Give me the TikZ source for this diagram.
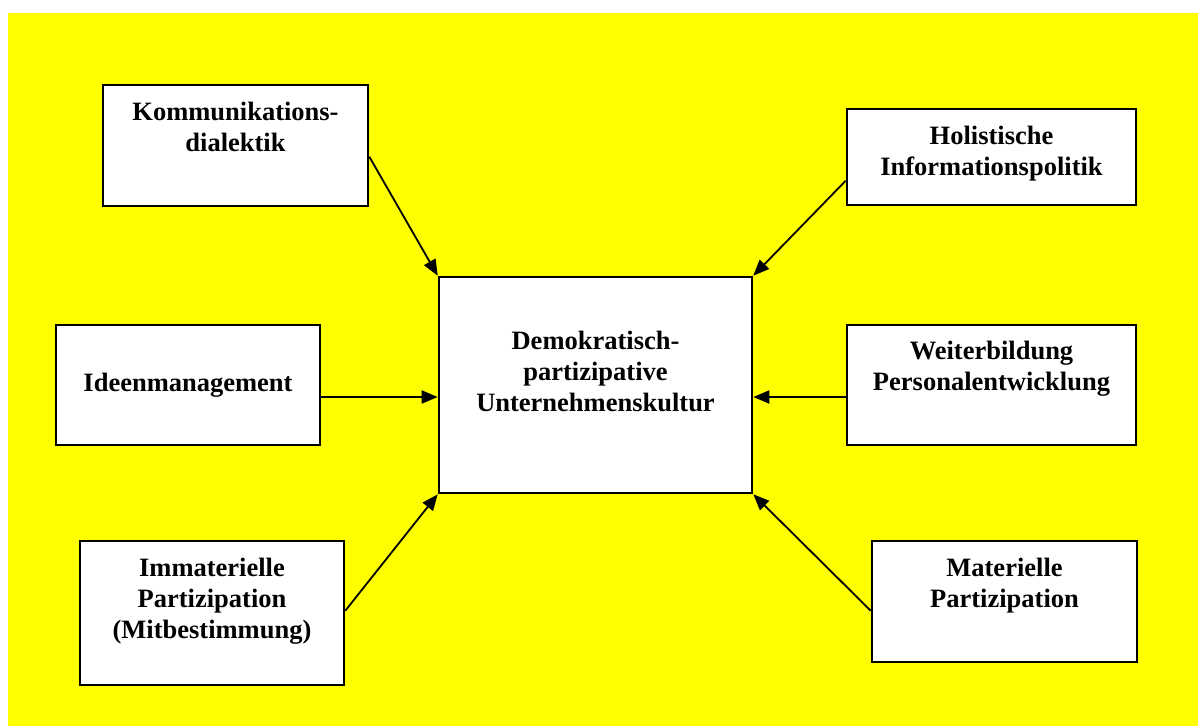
\documentclass[tikz,border=0pt]{standalone}
\usepackage{fontspec}
\setmainfont{Liberation Serif}
\usetikzlibrary{arrows.meta,calc}
\definecolor{bgyellow}{RGB}{255,255,0}
\tikzset{
  box/.style={draw=black, fill=white, line width=2.6pt, inner sep=0pt},
  lbl/.style={anchor=north, inner sep=0pt, align=center, font=\fontsize{26.5}{31.2}\selectfont\bfseries},
  conn/.style={line width=1.8pt, -{Triangle[length=16pt,width=13pt]}}
}
\begin{document}
\begin{tikzpicture}[x=1pt,y=-1pt]
\useasboundingbox (0,0) rectangle (1198,726);
\fill[white] (0,0) rectangle (1198,726);
\fill[bgyellow] (8,13) rectangle (1198,726);

% boxes
\node[box, minimum width=265pt, minimum height=121pt] (k)  at (235.5,145.5) {};
\node[box, minimum width=289pt, minimum height=96pt]  (h)  at (991.5,157) {};
\node[box, minimum width=264pt, minimum height=120pt] (i)  at (188,385) {};
\node[box, minimum width=313pt, minimum height=216pt] (c)  at (595.5,385) {};
\node[box, minimum width=289pt, minimum height=120pt] (w)  at (991.5,385) {};
\node[box, minimum width=264pt, minimum height=144pt] (im) at (212,613) {};
\node[box, minimum width=265pt, minimum height=121pt] (m)  at (1004.5,601.5) {};

% labels
\node[lbl] (kt)  at ($(k.north)+(0,18)$)  {Kommunikations-\\dialektik};
\node[lbl] (ht)  at ($(h.north)+(0,18)$)  {Holistische\\Informationspolitik};
\node[lbl] (it)  at ($(i.north)+(0,49)$)  {Ideenmanagement};
\node[lbl] (ct)  at ($(c.north)+(0,55)$)  {Demokratisch-\\partizipative\\Unternehmenskultur};
\node[lbl] (wt)  at ($(w.north)+(0,17)$)  {Weiterbildung\\Personalentwicklung};
\node[lbl] (imt) at ($(im.north)+(0,18)$) {Immaterielle\\Partizipation\\(Mitbestimmung)};
\node[lbl] (mt)  at ($(m.north)+(0,18)$)  {Materielle\\Partizipation};

% connector anchors
\coordinate (ks) at ($(k.north east)+(0,73)$);
\coordinate (hs) at ($(h.north west)+(0,73)$);
\coordinate (is) at ($(i.east)+(0,12)$);
\coordinate (ws) at ($(w.west)+(0,12)$);
\coordinate (ims) at ($(im.north east)+(0,71)$);
\coordinate (ms) at ($(m.north west)+(0,71)$);
\coordinate (cw) at ($(c.west)+(0,12)$);
\coordinate (ce) at ($(c.east)+(0,12)$);

% connectors
\draw[conn] (ks) -- (c.north west);
\draw[conn] (hs) -- (c.north east);
\draw[conn] (is) -- (cw);
\draw[conn] (ws) -- (ce);
\draw[conn] (ims) -- (c.south west);
\draw[conn] (ms) -- (c.south east);
\end{tikzpicture}
\end{document}
